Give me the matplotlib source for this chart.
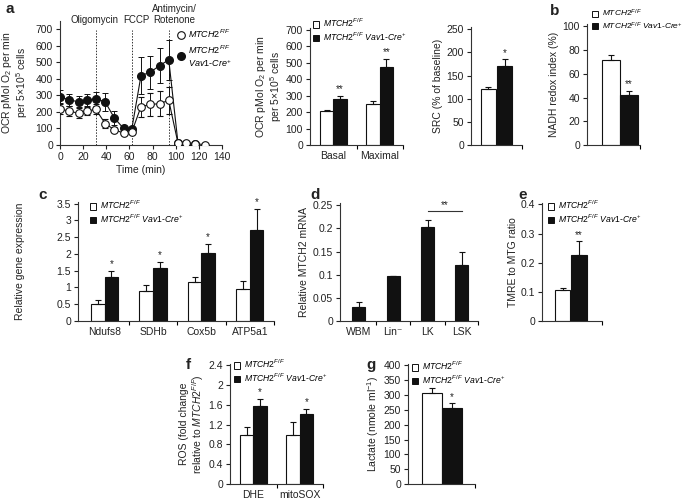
import matplotlib
matplotlib.use("Agg")
import matplotlib.pyplot as plt
from matplotlib.patches import Patch
from matplotlib.lines import Line2D
import numpy as np

plt.rcParams['font.family'] = ['Liberation Sans', 'DejaVu Sans']
plt.rcParams['mathtext.fontset'] = 'custom'
plt.rcParams['mathtext.rm'] = 'Liberation Sans'
plt.rcParams['mathtext.it'] = 'Liberation Sans:italic'
plt.rcParams['mathtext.bf'] = 'Liberation Sans:bold'

# ---------------- data ----------------
# Panel a: OCR time course
t_ko = [0, 8, 16, 23, 31, 39, 47, 55, 62, 70, 78, 86, 94, 102, 109, 117]
ocr_ko = [292, 272, 262, 272, 280, 261, 163, 100, 95, 420, 440, 480, 515, 10, 5, 5]
ocr_ko_err = [38, 35, 35, 35, 42, 55, 45, 15, 10, 110, 100, 105, 120, 10, 5, 5]
t_wt = [0, 8, 16, 23, 31, 39, 47, 55, 62, 70, 78, 86, 94, 102, 109, 117, 125]
ocr_wt = [218, 205, 192, 205, 215, 130, 92, 72, 78, 232, 245, 250, 270, 10, 12, 8, 2]
ocr_wt_err = [28, 28, 30, 25, 30, 25, 15, 10, 10, 60, 70, 75, 80, 8, 8, 5, 3]
inject_t = [31, 62, 94]

# Panel a: basal / maximal OCR
ocr_cats = ['Basal', 'Maximal']
ocr_bar_wt = [205, 250]
ocr_bar_wt_err = [10, 15]
ocr_bar_ko = [280, 475]
ocr_bar_ko_err = [20, 45]
ocr_sig = ['**', '**']

# Panel a: SRC
src_wt, src_wt_err = 120, 6
src_ko, src_ko_err = 170, 15

# Panel b: NADH redox index
nadh_wt, nadh_wt_err = 72, 4
nadh_ko, nadh_ko_err = 42, 3.5

# Panel c: gene expression
genes = ['Ndufs8', 'SDHb', 'Cox5b', 'ATP5a1']
gene_wt = [0.50, 0.90, 1.15, 0.95]
gene_wt_err = [0.13, 0.17, 0.17, 0.25]
gene_ko = [1.30, 1.57, 2.02, 2.72]
gene_ko_err = [0.20, 0.20, 0.28, 0.62]

# Panel d: MTCH2 mRNA
pops = ['WBM', 'Lin\u207b', 'LK', 'LSK']
mtch2 = [0.030, 0.097, 0.203, 0.120]
mtch2_err = [0.010, 0.001, 0.016, 0.030]

# Panel e: TMRE/MTG
tmre_wt, tmre_wt_err = 0.105, 0.008
tmre_ko, tmre_ko_err = 0.228, 0.045

# Panel f: ROS
ros_cats = ['DHE', 'mitoSOX']
ros_wt = [1.0, 1.0]
ros_wt_err = [0.15, 0.26]
ros_ko = [1.58, 1.42]
ros_ko_err = [0.15, 0.10]

# Panel g: lactate
lac_wt, lac_wt_err = 307, 18
lac_ko, lac_ko_err = 257, 15

LBL_WT = r'$MTCH2^{F/F}$'
LBL_KO = r'$MTCH2^{F/F}$ $Vav1$-$Cre^{+}$'

# ---------------- layout helpers ----------------
W, H = 685, 500
fig = plt.figure(figsize=(W / 100, H / 100), dpi=100)
TXT = '#222222'
FS = 7.5

def add_ax(l, t, r, b):
    return fig.add_axes([l / W, 1 - b / H, (r - l) / W, (b - t) / H])

def style(ax):
    for s in ['top', 'right']:
        ax.spines[s].set_visible(False)
    for s in ['left', 'bottom']:
        ax.spines[s].set_linewidth(0.8)
        ax.spines[s].set_color('#333333')
    ax.tick_params(direction='out', length=3, width=0.8, labelsize=FS,
                   pad=2, colors=TXT)

def ylab(ax, text, pad=3):
    ax.set_ylabel(text, fontsize=FS, color=TXT, linespacing=1.05, labelpad=pad)

def cat_axis(ax, centers, labels, bounds):
    ax.set_xticks(centers)
    ax.set_xticklabels(labels, fontsize=FS, color=TXT)
    ax.tick_params(axis='x', which='major', length=0, pad=4)
    ax.set_xticks(bounds, minor=True)
    ax.tick_params(axis='x', which='minor', direction='out', length=3, width=0.8)

def end_tick(ax):
    ax.set_xticks([])
    ax.set_xticks([1.0], minor=True)
    ax.tick_params(axis='x', which='minor', direction='out', length=3, width=0.8)

def bars(ax, x, vals, errs, white, width):
    fc = 'white' if white else '#111111'
    ax.bar(x, vals, width, color=fc, edgecolor='#111111', linewidth=0.8,
           yerr=[np.zeros(len(np.atleast_1d(vals))), errs],
           error_kw=dict(ecolor='#111111', elinewidth=0.8, capsize=2, capthick=0.8),
           zorder=2)

def star(ax, x, top, s, ylim):
    ax.text(x, top + ylim * 0.015, s, ha='center', va='bottom', fontsize=7, color=TXT)

def bar_legend(ax, left_px, top_px, fs=6.2):
    h = [Patch(facecolor='white', edgecolor='#111111', linewidth=0.7),
         Patch(facecolor='#111111', edgecolor='#111111', linewidth=0.7)]
    ax.legend(h, [LBL_WT, LBL_KO], loc='upper left',
              bbox_to_anchor=(left_px / W, 1 - top_px / H),
              bbox_transform=fig.transFigure, frameon=False, fontsize=fs,
              handlelength=0.75, handleheight=0.75, handletextpad=0.4,
              labelspacing=0.15, borderpad=0, borderaxespad=0)

def panel_label(s, x, y):
    fig.text(x / W, 1 - y / H, s, fontsize=11, fontweight='bold', color=TXT,
             ha='left', va='top')

# ---------------- panel a: time course ----------------
l, t, r, b = 60, 21, 222, 145
ax = add_ax(l, t, r, b)
style(ax)
ax.errorbar(t_ko, ocr_ko, yerr=ocr_ko_err, fmt='-o', color='#111111',
            mfc='#111111', mec='#111111', ms=5.5, lw=0.8, elinewidth=0.7,
            capsize=2, capthick=0.7, zorder=3)
ax.errorbar(t_wt, ocr_wt, yerr=ocr_wt_err, fmt='-o', color='#111111',
            mfc='white', mec='#111111', ms=5.5, mew=0.8, lw=0.8, elinewidth=0.7,
            capsize=2, capthick=0.7, zorder=4)
for ti in inject_t:
    ax.axvline(ti, ymin=0, ymax=0.93, color='#333333', ls=(0, (1.5, 1.5)), lw=0.7, zorder=1)
xt = ax.get_xaxis_transform()
ax.text(30, 1.005, 'Oligomycin', transform=xt, ha='center', va='center', fontsize=7, color=TXT)
ax.text(66, 1.005, 'FCCP', transform=xt, ha='center', va='center', fontsize=7, color=TXT)
ax.text(99, 1.005, 'Rotenone', transform=xt, ha='center', va='center', fontsize=7, color=TXT)
ax.text(99, 1.005 + 0.095, 'Antimycin/', transform=xt, ha='center', va='center', fontsize=7, color=TXT)
ax.set_xlim(0, 140)
ax.set_ylim(0, 750)
ax.set_xticks(range(0, 141, 20))
ax.set_yticks(range(0, 701, 100))
ax.set_xlabel('Time (min)', fontsize=FS, color=TXT, labelpad=2)
ylab(ax, 'OCR pMol O$_2$ per min\nper 5×10$^5$ cells', pad=4)
hl = [Line2D([], [], marker='o', ls='none', mfc='white', mec='#111111', ms=5.5, mew=0.8),
      Line2D([], [], marker='o', ls='none', mfc='#111111', mec='#111111', ms=5.5)]
ax.legend(hl, [LBL_WT, r'$MTCH2^{F/F}$' + '\n' + r'$Vav1$-$Cre^{+}$'],
          loc='upper left', bbox_to_anchor=(178 / W, 1 - 28 / H),
          bbox_transform=fig.transFigure, frameon=False, fontsize=6.5,
          handlelength=0.6, handletextpad=0.5, labelspacing=0.3,
          borderpad=0, borderaxespad=0)

# ---------------- panel a: basal/maximal ----------------
l, t, r, b = 310, 28, 403, 145
ax = add_ax(l, t, r, b)
style(ax)
xc = np.arange(len(ocr_cats))
bars(ax, xc - 0.145, ocr_bar_wt, ocr_bar_wt_err, True, 0.29)
bars(ax, xc + 0.145, ocr_bar_ko, ocr_bar_ko_err, False, 0.29)
for i in range(len(xc)):
    star(ax, xc[i] + 0.145, ocr_bar_ko[i] + ocr_bar_ko_err[i], ocr_sig[i], 710)
ax.set_xlim(-0.5, 1.5)
ax.set_ylim(0, 710)
ax.set_yticks(range(0, 701, 100))
cat_axis(ax, xc, ocr_cats, [0.5, 1.5])
ylab(ax, 'OCR pMol O$_2$ per min\nper 5×10$^5$ cells', pad=1)
bar_legend(ax, 313, 17)

# ---------------- panel a: SRC ----------------
l, t, r, b = 471, 27, 522, 145
ax = add_ax(l, t, r, b)
style(ax)
bars(ax, [0.343], [src_wt], [src_wt_err], True, 0.294)
bars(ax, [0.657], [src_ko], [src_ko_err], False, 0.294)
star(ax, 0.657, src_ko + src_ko_err, '*', 255)
ax.set_xlim(0, 1)
ax.set_ylim(0, 255)
ax.set_yticks(range(0, 251, 50))
end_tick(ax)
ylab(ax, 'SRC (% of baseline)', pad=3)

# ---------------- panel b: NADH ----------------
l, t, r, b = 587, 24, 640, 145
ax = add_ax(l, t, r, b)
style(ax)
bars(ax, [0.453], [nadh_wt], [nadh_wt_err], True, 0.34)
bars(ax, [0.792], [nadh_ko], [nadh_ko_err], False, 0.34)
star(ax, 0.792, nadh_ko + nadh_ko_err, '**', 102)
ax.set_xlim(0, 1)
ax.set_ylim(0, 102)
ax.set_yticks(range(0, 101, 20))
end_tick(ax)
ylab(ax, 'NADH redox index (%)', pad=3)
bar_legend(ax, 592, 8, fs=6.0)

# ---------------- panel c ----------------
l, t, r, b = 78, 202, 274, 321
ax = add_ax(l, t, r, b)
style(ax)
xc = np.arange(len(genes))
bars(ax, xc - 0.14, gene_wt, gene_wt_err, True, 0.28)
bars(ax, xc + 0.14, gene_ko, gene_ko_err, False, 0.28)
for i in range(len(xc)):
    star(ax, xc[i] + 0.14, gene_ko[i] + gene_ko_err[i], '*', 3.55)
ax.set_xlim(-0.55, 3.5)
ax.set_ylim(0, 3.55)
ax.set_yticks([0, 0.5, 1, 1.5, 2, 2.5, 3, 3.5])
ax.set_yticklabels(['0', '0.5', '1', '1.5', '2', '2.5', '3', '3.5'])
cat_axis(ax, xc, genes, [0.5, 1.5, 2.5, 3.5])
ylab(ax, 'Relative gene expression', pad=23)
bar_legend(ax, 90, 199)

# ---------------- panel d ----------------
l, t, r, b = 340, 203, 478, 321
ax = add_ax(l, t, r, b)
style(ax)
xc = np.arange(len(pops))
bars(ax, xc, mtch2, mtch2_err, False, 0.38)
ax.plot([2, 3], [0.238, 0.238], color='#333333', lw=0.8)
ax.text(2.5, 0.239, '**', ha='center', va='bottom', fontsize=7, color=TXT)
ax.set_xlim(-0.55, 3.47)
ax.set_ylim(0, 0.255)
ax.set_yticks([0, 0.05, 0.1, 0.15, 0.2, 0.25])
ax.set_yticklabels(['0', '0.05', '0.1', '0.15', '0.2', '0.25'])
cat_axis(ax, xc, pops, [0.5, 1.5, 2.5, 3.47])
ylab(ax, 'Relative MTCH2 mRNA', pad=3)

# ---------------- panel e ----------------
l, t, r, b = 542, 203, 602, 321
ax = add_ax(l, t, r, b)
style(ax)
bars(ax, [0.342], [tmre_wt], [tmre_wt_err], True, 0.26)
bars(ax, [0.617], [tmre_ko], [tmre_ko_err], False, 0.26)
star(ax, 0.617, tmre_ko + tmre_ko_err, '**', 0.405)
ax.set_xlim(0, 1)
ax.set_ylim(0, 0.405)
ax.set_yticks([0, 0.1, 0.2, 0.3, 0.4])
ax.set_yticklabels(['0', '0.1', '0.2', '0.3', '0.4'])
end_tick(ax)
ylab(ax, 'TMRE to MTG ratio', pad=2)
bar_legend(ax, 548, 199)

# ---------------- panel f ----------------
l, t, r, b = 230, 364, 323, 484
ax = add_ax(l, t, r, b)
style(ax)
xc = np.arange(len(ros_cats))
bars(ax, xc - 0.145, ros_wt, ros_wt_err, True, 0.29)
bars(ax, xc + 0.145, ros_ko, ros_ko_err, False, 0.29)
for i in range(len(xc)):
    star(ax, xc[i] + 0.145, ros_ko[i] + ros_ko_err[i], '*', 2.43)
ax.set_xlim(-0.5, 1.5)
ax.set_ylim(0, 2.43)
ax.set_yticks([0, 0.4, 0.8, 1.2, 1.6, 2.0, 2.4])
ax.set_yticklabels(['0', '0.4', '0.8', '1.2', '1.6', '2', '2.4'])
cat_axis(ax, xc, ros_cats, [0.5, 1.5])
ylab(ax, 'ROS (fold change\nrelative to $MTCH2^{F/F}$)', pad=2)
bar_legend(ax, 234, 358)

# ---------------- panel g ----------------
l, t, r, b = 408, 364, 475, 484
ax = add_ax(l, t, r, b)
style(ax)
bars(ax, [0.358], [lac_wt], [lac_wt_err], True, 0.3)
bars(ax, [0.657], [lac_ko], [lac_ko_err], False, 0.3)
star(ax, 0.657, lac_ko + lac_ko_err, '*', 405)
ax.set_xlim(0, 1)
ax.set_ylim(0, 405)
ax.set_yticks(range(0, 401, 50))
end_tick(ax)
ylab(ax, 'Lactate (nmole ml$^{-1}$)', pad=2)
bar_legend(ax, 412, 360)

# ---------------- panel letters ----------------
panel_label('a', 5, 2)
panel_label('b', 550, 4)
panel_label('c', 38, 188)
panel_label('d', 310, 188)
panel_label('e', 518, 188)
panel_label('f', 186, 358)
panel_label('g', 366, 358)

fig.savefig('out.png', dpi=100)
